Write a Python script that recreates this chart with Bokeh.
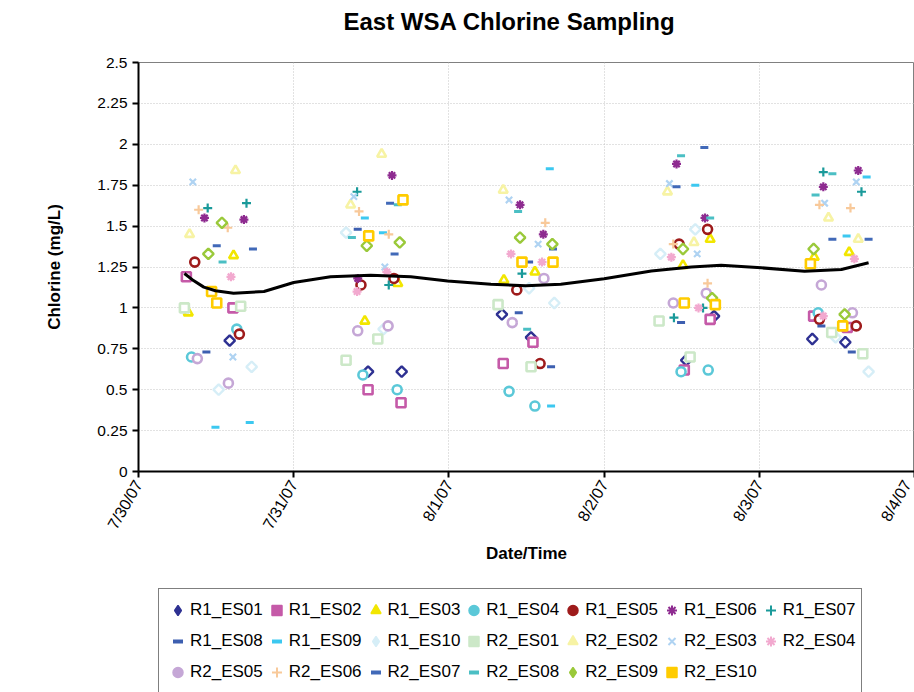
import math
from bokeh.plotting import figure
from bokeh.layouts import column
from bokeh.models import FixedTicker, Legend, LegendItem, Range1d
from bokeh.embed import file_html
from bokeh.resources import INLINE

# ---------------- data ----------------
title_text = "East WSA Chlorine Sampling"
day_ticks = [0, 1, 2, 3, 4, 5]
day_labels = ["7/30/07", "7/31/07", "8/1/07", "8/2/07", "8/3/07", "8/4/07"]
y_ticks = [0, 0.25, 0.5, 0.75, 1, 1.25, 1.5, 1.75, 2, 2.25, 2.5]
y_labels = ["0", "0.25", "0.5", "0.75", "1", "1.25", "1.5", "1.75", "2", "2.25", "2.5"]

series_names = ["R1_ES01", "R1_ES02", "R1_ES03", "R1_ES04", "R1_ES05", "R1_ES06", "R1_ES07",
                "R1_ES08", "R1_ES09", "R1_ES10", "R2_ES01", "R2_ES02", "R2_ES03", "R2_ES04",
                "R2_ES05", "R2_ES06", "R2_ES07", "R2_ES08", "R2_ES09", "R2_ES10"]

# sample times in hours after 7/30/07 00:00, chlorine in mg/L
r1_es01_t = [14.1, 35.5, 40.7, 56.2, 60.7, 84.7, 89.0, 104.2, 109.3]
r1_es01_v = [0.80, 0.61, 0.61, 0.96, 0.82, 0.68, 0.95, 0.81, 0.79]
r1_es02_t = [7.4, 14.6, 35.5, 40.6, 56.4, 61.0, 84.4, 88.4, 104.4, 109.6]
r1_es02_v = [1.19, 1.00, 0.50, 0.42, 0.66, 0.79, 0.62, 0.93, 0.95, 0.88]
r1_es03_t = [7.7, 14.7, 35.0, 40.1, 56.5, 61.3, 84.2, 88.4, 104.5, 109.9]
r1_es03_v = [0.97, 1.32, 0.92, 1.15, 1.17, 1.22, 1.26, 1.42, 1.31, 1.34]
r1_es04_t = [8.2, 15.2, 34.7, 40.0, 57.3, 61.3, 83.9, 88.1, 105.1]
r1_es04_v = [0.70, 0.87, 0.59, 0.50, 0.49, 0.40, 0.61, 0.62, 0.97]
r1_es05_t = [8.7, 15.6, 34.4, 39.5, 58.5, 62.1, 83.6, 88.0, 105.3, 111.0]
r1_es05_v = [1.28, 0.84, 1.14, 1.18, 1.11, 0.66, 1.39, 1.48, 0.93, 0.89]
r1_es06_t = [10.2, 16.3, 33.9, 39.2, 59.0, 62.6, 83.2, 87.6, 105.9, 111.3]
r1_es06_v = [1.55, 1.54, 1.18, 1.81, 1.63, 1.45, 1.88, 1.55, 1.74, 1.84]
r1_es07_t = [10.7, 16.7, 33.8, 38.7, 59.3, 82.8, 87.3, 105.9, 111.8]
r1_es07_v = [1.61, 1.64, 1.71, 1.14, 1.21, 0.94, 1.00, 1.83, 1.71]
r1_es08_t = [7.1, 10.5, 33.9, 58.8, 60.4, 63.8, 83.9, 105.6, 110.3]
r1_es08_v = [0.98, 0.73, 1.48, 0.97, 1.28, 0.64, 0.91, 0.89, 0.73]
r1_es09_t = [11.9, 17.2, 35.0, 37.8, 63.6, 63.8, 86.1, 109.5, 112.6]
r1_es09_v = [0.27, 0.30, 1.55, 1.46, 1.85, 0.40, 1.75, 1.44, 1.80]
r1_es10_t = [12.4, 17.5, 32.1, 37.9, 60.4, 64.3, 80.7, 86.1, 107.8, 112.9]
r1_es10_v = [0.50, 0.64, 1.46, 0.87, 1.12, 1.03, 1.33, 1.48, 0.82, 0.61]
r2_es01_t = [7.1, 15.8, 32.1, 37.0, 55.6, 60.7, 80.5, 85.3, 107.2, 112.0]
r2_es01_v = [1.00, 1.01, 0.68, 0.81, 1.02, 0.64, 0.92, 0.70, 0.85, 0.72]
r2_es02_t = [7.9, 15.0, 32.8, 37.6, 56.4, 81.8, 85.9, 106.7, 111.3]
r2_es02_v = [1.45, 1.84, 1.63, 1.94, 1.72, 1.71, 1.40, 1.55, 1.42]
r2_es03_t = [8.4, 14.6, 33.3, 38.1, 57.3, 61.8, 82.1, 86.4, 106.1, 111.0]
r2_es03_v = [1.77, 0.70, 1.68, 1.25, 1.66, 1.39, 1.76, 1.33, 1.64, 1.77]
r2_es04_t = [14.3, 33.8, 38.4, 57.6, 62.4, 82.4, 86.6, 105.9, 110.7]
r2_es04_v = [1.19, 1.10, 1.22, 1.33, 1.28, 1.31, 1.00, 0.95, 1.30]
r2_es05_t = [9.1, 13.9, 33.9, 38.6, 57.8, 62.7, 82.7, 87.8, 105.6, 110.4]
r2_es05_v = [0.69, 0.54, 0.86, 0.89, 0.91, 1.18, 1.03, 1.09, 1.14, 0.97]
r2_es06_t = [9.3, 13.8, 34.1, 38.7, 62.9, 82.7, 88.0, 105.3, 110.1]
r2_es06_v = [1.60, 1.49, 1.59, 1.45, 1.52, 1.39, 1.15, 1.63, 1.61]
r2_es07_t = [12.1, 17.7, 38.9, 39.6, 64.1, 83.2, 87.5, 107.3, 112.9]
r2_es07_v = [1.38, 1.36, 1.64, 1.33, 1.36, 1.74, 1.98, 1.42, 1.42]
r2_es08_t = [13.0, 33.0, 40.1, 58.7, 60.1, 83.9, 88.4, 104.7, 107.3]
r2_es08_v = [1.28, 1.43, 1.63, 1.59, 0.87, 1.93, 1.55, 1.69, 1.82]
r2_es09_t = [10.8, 12.9, 35.3, 40.4, 59.0, 64.0, 84.2, 88.7, 104.4, 109.2]
r2_es09_v = [1.33, 1.52, 1.38, 1.40, 1.43, 1.39, 1.36, 1.06, 1.36, 0.96]
r2_es10_t = [11.3, 12.1, 35.6, 40.9, 59.3, 64.1, 84.4, 89.2, 103.9, 108.9]
r2_es10_v = [1.10, 1.03, 1.44, 1.66, 1.28, 1.28, 1.03, 1.02, 1.27, 0.89]

# trendline
trend_t = [7.1, 8.5, 10.1, 11.9, 14.7, 19.4, 24.0, 29.7, 35.9, 42.1, 47.8, 54.5, 59.9,
           65.3, 72.0, 79.3, 85.5, 90.1, 96.3, 103.0, 108.7, 112.9]
trend_v = [1.21, 1.167, 1.127, 1.105, 1.09, 1.10, 1.155, 1.19, 1.20, 1.19, 1.165, 1.145, 1.135,
           1.145, 1.178, 1.225, 1.25, 1.26, 1.245, 1.224, 1.235, 1.276]

series_t = [r1_es01_t, r1_es02_t, r1_es03_t, r1_es04_t, r1_es05_t, r1_es06_t, r1_es07_t,
            r1_es08_t, r1_es09_t, r1_es10_t, r2_es01_t, r2_es02_t, r2_es03_t, r2_es04_t,
            r2_es05_t, r2_es06_t, r2_es07_t, r2_es08_t, r2_es09_t, r2_es10_t]
series_v = [r1_es01_v, r1_es02_v, r1_es03_v, r1_es04_v, r1_es05_v, r1_es06_v, r1_es07_v,
            r1_es08_v, r1_es09_v, r1_es10_v, r2_es01_v, r2_es02_v, r2_es03_v, r2_es04_v,
            r2_es05_v, r2_es06_v, r2_es07_v, r2_es08_v, r2_es09_v, r2_es10_v]

# ---------------- styles ----------------
colors = ["#2E3192", "#C55AA8", "#F2E600", "#5BC8D8", "#9E1B1B", "#8E2B90", "#1A9A9A",
          "#3D5FB0", "#3CC8F0", "#D6EEF7", "#CCE8C8", "#F7F3A4", "#AFD3F2", "#F2A9CF",
          "#C5A7D6", "#F8C99A", "#4169B8", "#4BBFC4", "#9AC93A", "#FFCC00"]
markers = ["diamond", "square", "triangle", "circle", "circle", "asterisk", "cross",
           "dash", "dash", "diamond", "square", "triangle", "x", "asterisk",
           "circle", "cross", "dash", "dash", "diamond", "square"]

FONT = "Liberation Sans"


def blank_figure(h):
    f = figure(width=914, height=h, x_range=Range1d(0, 1), y_range=Range1d(0, 1),
               output_backend="svg", toolbar_location=None,
               x_axis_location=None, y_axis_location=None,
               min_border_left=138, min_border_right=0, min_border_top=0, min_border_bottom=0)
    f.xgrid.visible = False
    f.ygrid.visible = False
    f.outline_line_color = None
    f.background_fill_color = "white"
    f.border_fill_color = "white"
    return f


# ---- title strip ----
t = blank_figure(40)
t.min_border_top = 34
t.title.text = title_text
t.title.text_font = FONT
t.title.text_font_size = "24px"
t.title.text_font_style = "bold"
t.title.text_color = "black"
t.title.align = "left"
t.title.offset = 205
t.title.standoff = 0
t.title.vertical_align = "bottom"

# ---- main chart ----
p = figure(width=914, height=542, x_range=Range1d(0, 5), y_range=Range1d(0, 2.5),
           output_backend="svg", toolbar_location=None,
           min_border_left=138, min_border_right=0, min_border_top=22, min_border_bottom=111)
p.background_fill_color = "white"
p.border_fill_color = "white"
p.outline_line_color = "#808080"
p.outline_line_width = 1

xa = p.xaxis[0]
xa.ticker = FixedTicker(ticks=day_ticks)
xa.major_label_overrides = {tk: lb for tk, lb in zip(day_ticks, day_labels)}
xa.major_label_orientation = math.pi / 3
xa.axis_label = "Date/Time"
ya = p.yaxis[0]
ya.ticker = FixedTicker(ticks=y_ticks)
ya.major_label_overrides = {tk: lb for tk, lb in zip(y_ticks, y_labels)}
ya.axis_label = "Chlorine (mg/L)"
for ax in (xa, ya):
    ax.axis_line_color = "black"
    ax.axis_line_width = 2
    ax.major_tick_line_color = "black"
    ax.major_tick_line_width = 2
    ax.major_tick_out = 6
    ax.major_tick_in = 0
    ax.minor_tick_line_color = None
    ax.major_label_text_font = FONT
    ax.major_label_text_color = "black"
    ax.axis_label_text_font = FONT
    ax.axis_label_text_font_size = "17px"
    ax.axis_label_text_font_style = "bold"
    ax.axis_label_text_color = "black"
xa.major_label_text_font_size = "16px"
ya.major_label_text_font_size = "15.5px"
xa.major_label_standoff = 4
xa.axis_label_standoff = 5
ya.major_label_standoff = 5
ya.axis_label_standoff = 30

p.xgrid.ticker = FixedTicker(ticks=day_ticks)
p.ygrid.ticker = FixedTicker(ticks=y_ticks)
for g in (p.xgrid, p.ygrid):
    g.grid_line_color = "#c4c4c4"
    g.grid_line_dash = "1 2"
    g.grid_line_width = 1

# ---- legend strip ----
q = blank_figure(110)

legend_items = []
nan = float("nan")
for name, ts, vs, col, mk in zip(series_names, series_t, series_v, colors, markers):
    xs = [v / 24.0 for v in ts]
    if mk == "dash":
        p.scatter(xs, vs, marker=mk, size=8, line_color=col, line_width=3)
    elif mk in ("asterisk", "cross", "x"):
        p.scatter(xs, vs, marker=mk, size=9, line_color=col, line_width=2.2)
    elif mk == "diamond":
        p.scatter(xs, vs, marker="square", angle=math.pi / 4, size=7.5, fill_color="white",
                  line_color=col, line_width=2.4)
    else:
        p.scatter(xs, vs, marker=mk, size=9, fill_color="white", line_color=col, line_width=2.6)
    # filled marker used only by the legend
    if mk == "dash":
        lr = q.scatter([nan], [nan], marker=mk, size=8, line_color=col, line_width=4)
    elif mk in ("asterisk", "x", "cross"):
        lr = q.scatter([nan], [nan], marker=mk, size=8, line_color=col, line_width=2)
    else:
        lr = q.scatter([nan], [nan], marker=mk, size=8, fill_color=col, line_color=col, line_width=1.5)
    legend_items.append(LegendItem(label=name, renderers=[lr]))

p.line([v / 24.0 for v in trend_t], trend_v, line_color="black", line_width=3, line_join="round")

legend = Legend(items=legend_items, location=(20, -2), orientation="horizontal", ncols=7,
                glyph_width=25, glyph_height=30, label_standoff=0, spacing=1, padding=6,
                label_text_font=FONT, label_text_font_size="17px", label_text_color="black",
                label_height=20,
                border_line_color="black", border_line_width=1, background_fill_color="white",
                background_fill_alpha=1.0, margin=0)
q.add_layout(legend, "center")

layout = column(t, p, q, spacing=0)
open("out.html", "w").write(file_html(layout, INLINE))
